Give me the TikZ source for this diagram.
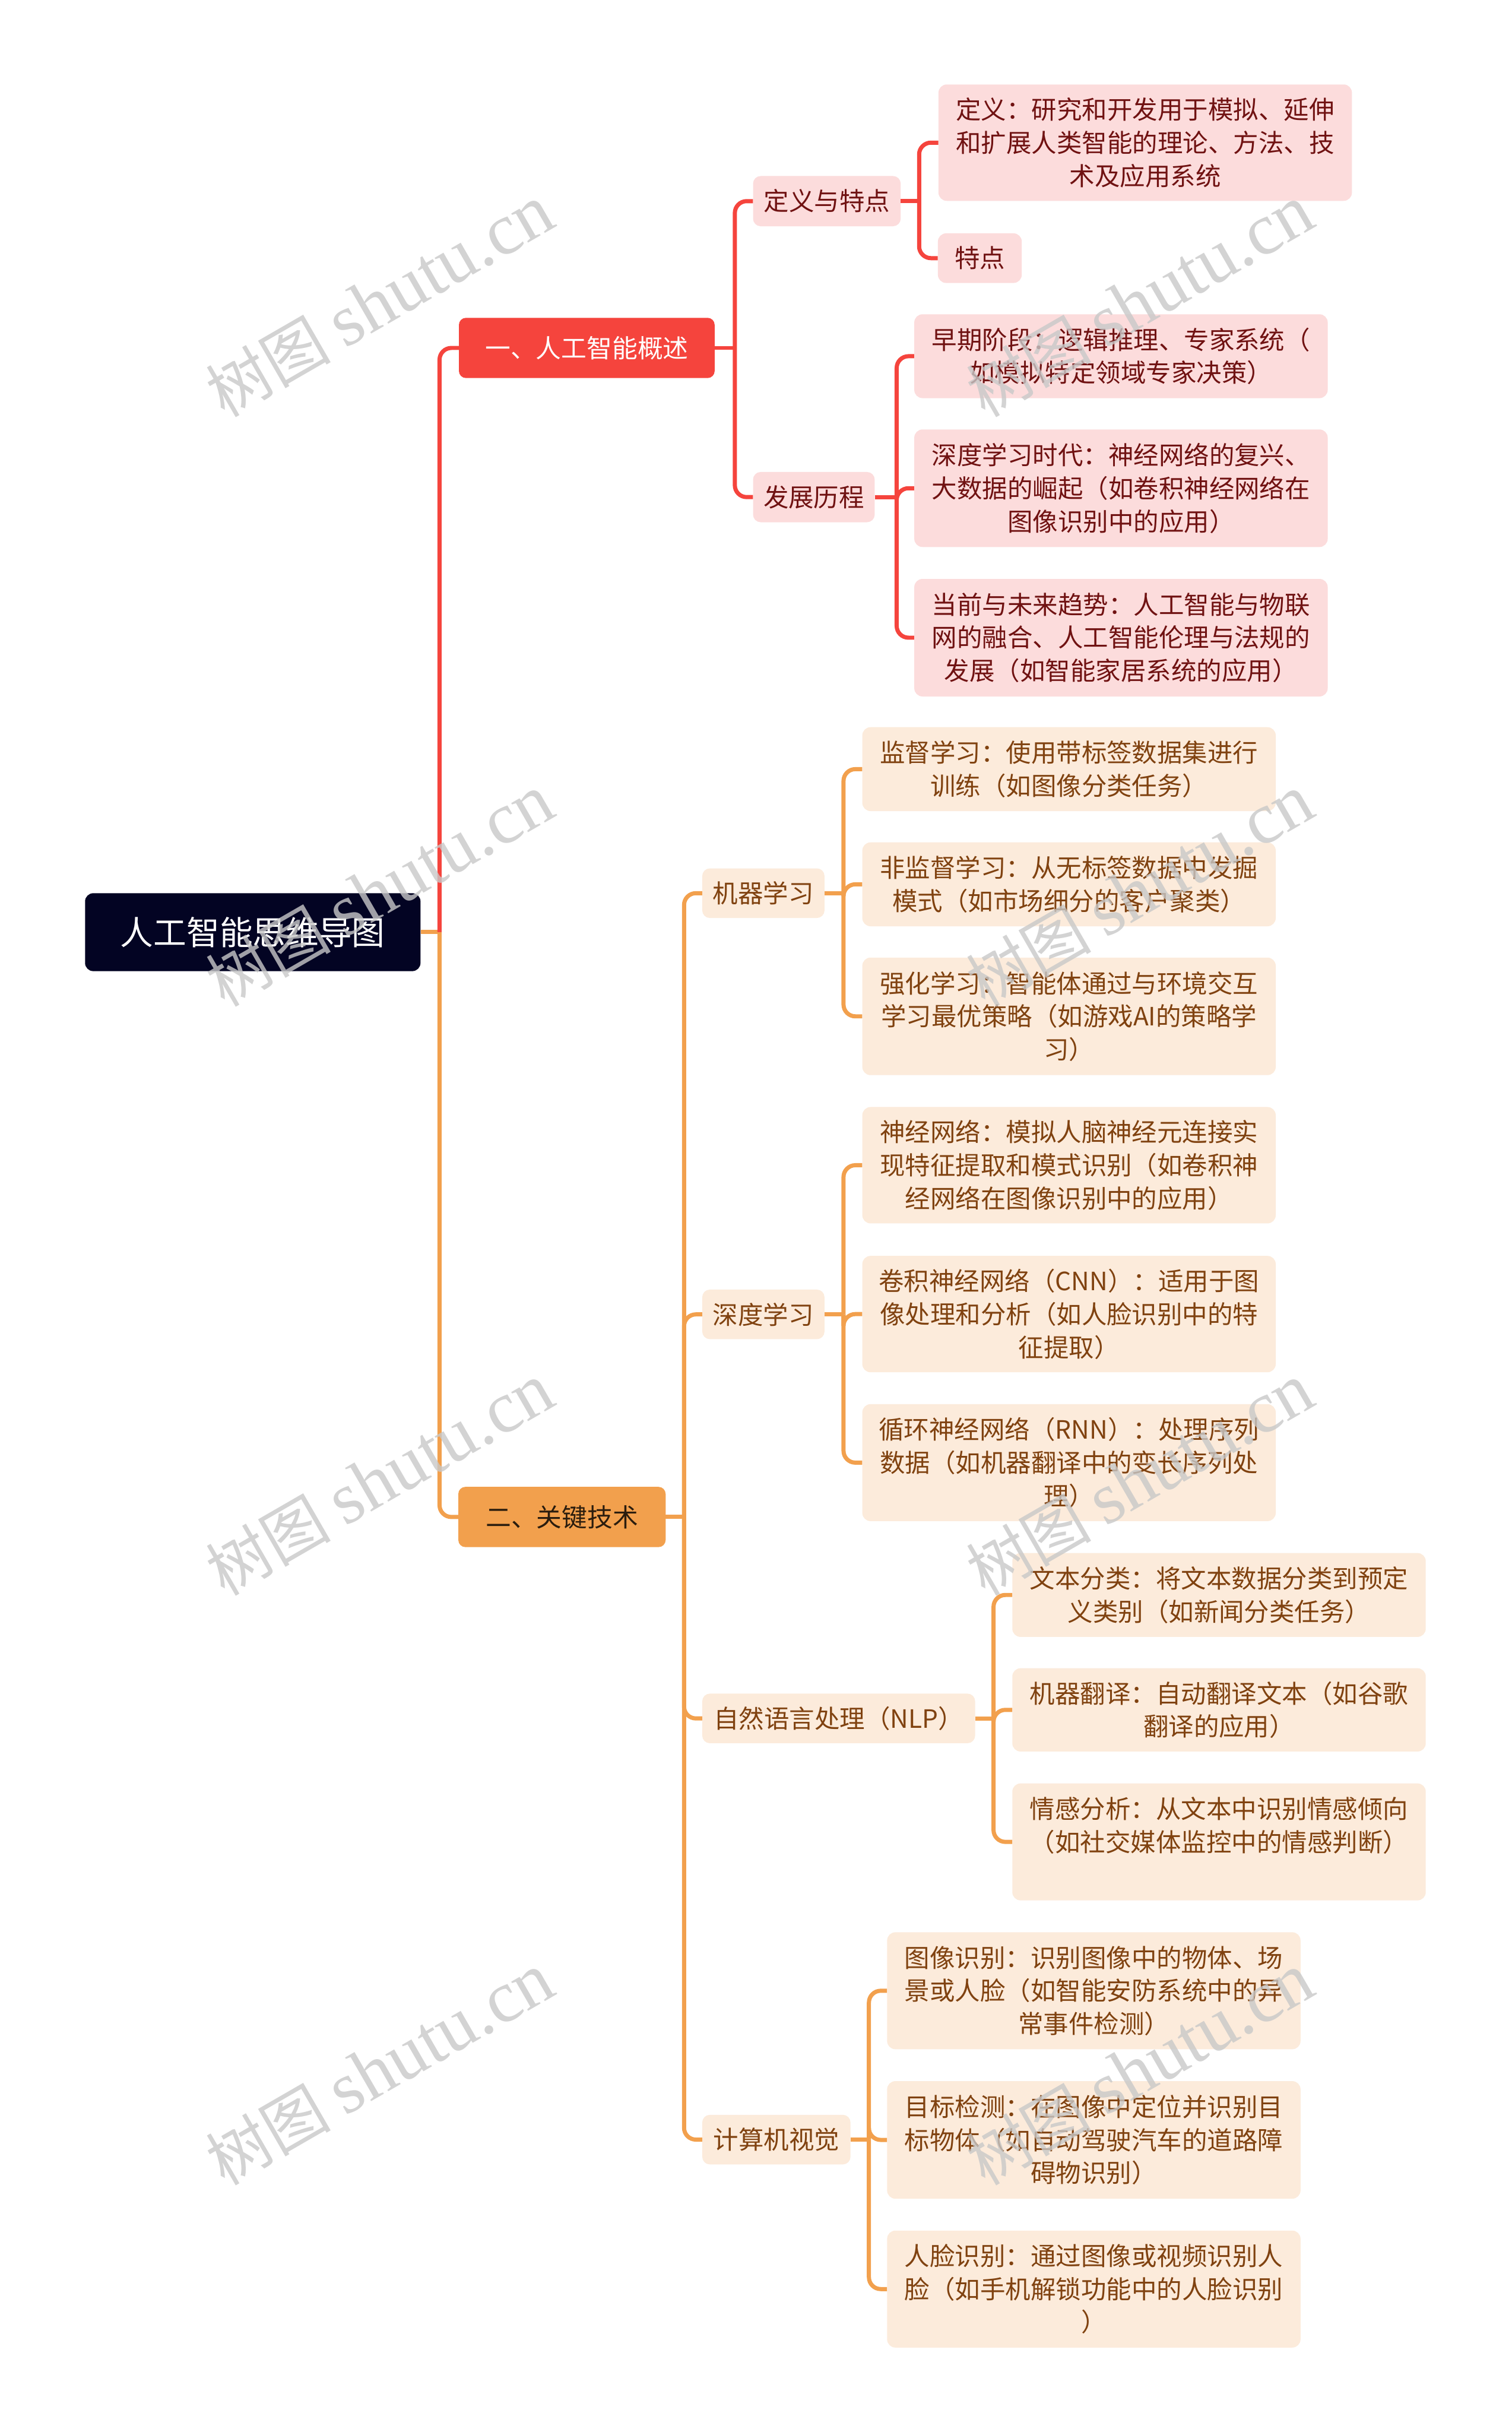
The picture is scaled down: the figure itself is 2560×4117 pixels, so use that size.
\documentclass[tikz,border=0pt]{standalone}
\usepackage{fontspec}
\setmainfont{Noto Sans CJK SC}
\newfontfamily\wmserif{Liberation Serif}
\definecolor{rootc}{RGB}{3,4,35}
\definecolor{redc}{RGB}{245,68,61}
\definecolor{orc}{RGB}{242,160,77}
\definecolor{pinkf}{RGB}{252,220,220}
\definecolor{peachf}{RGB}{252,235,219}
\definecolor{redt}{RGB}{112,18,18}
\definecolor{brownt}{RGB}{128,66,16}
\definecolor{darkt}{RGB}{43,29,14}
\definecolor{wmc}{RGB}{200,200,200}
\begin{document}
\begin{tikzpicture}[x=1pt,y=-1pt,
  box/.style={rectangle, inner sep=0pt, align=center},
  rootbox/.style={box, fill=rootc, text=white, rounded corners=14pt, font=\fontsize{56}{66}\selectfont},
  bonebox/.style={box, fill=redc, text=white, rounded corners=12pt, font=\fontsize{43}{56}\selectfont},
  btwobox/.style={box, fill=orc, text=darkt, rounded corners=12pt, font=\fontsize{43}{56}\selectfont},
  midr/.style={box, fill=pinkf, text=redt, rounded corners=13pt, minimum height=85pt, font=\fontsize{42.7}{56}\selectfont},
  mido/.style={box, fill=peachf, text=brownt, rounded corners=13pt, minimum height=84pt, font=\fontsize{42.7}{56}\selectfont},
  leafr/.style={box, fill=pinkf, text=redt, rounded corners=14pt, minimum width=700pt, font=\fontsize{42.7}{56}\selectfont},
  leafo/.style={box, fill=peachf, text=brownt, rounded corners=14pt, minimum width=700pt, font=\fontsize{42.7}{56}\selectfont},
  rline/.style={draw=redc, line width=7pt, rounded corners=20pt},
  oline/.style={draw=orc, line width=7pt, rounded corners=20pt},
  wm/.style={text=wmc, opacity=0.8, rotate=30, inner sep=0pt}
]
\useasboundingbox (0,0) rectangle (2560,4117);
\fill[white] (0,0) rectangle (2560,4117);

% root and branches
\node[rootbox, minimum width=568pt, minimum height=132pt] (root) at (428,1578) {人工智能思维导图};
\node[bonebox, minimum width=433pt, minimum height=102pt] (b1) at (993.5,589) {一、人工智能概述};
\node[btwobox, minimum width=351pt, minimum height=102pt] (b2) at (951.5,2568) {二、关键技术};

% level 2
\node[midr, minimum width=250pt] (n11) at (1400,340.5) {定义与特点};
\node[midr, minimum width=206pt] (n12) at (1378,841.5) {发展历程};
\node[mido, minimum width=207pt] (n21) at (1292.5,1512) {机器学习};
\node[mido, minimum width=207pt] (n22) at (1292.5,2225) {深度学习};
\node[mido, minimum width=462pt] (n23) at (1420,2909) {自然语言处理（NLP）};
\node[mido, minimum width=251pt] (n24) at (1314.5,3622) {计算机视觉};

% leaves of branch 1
\node[leafr, minimum height=197pt] (l111) at (1939,241.5) {定义：研究和开发用于模拟、延伸\\和扩展人类智能的理论、方法、技\\术及应用系统};
\node[leafr, minimum width=142pt, minimum height=84pt] (l112) at (1659,437) {特点};
\node[leafr, minimum height=142pt] (l121) at (1898,603) {早期阶段：逻辑推理、专家系统（\\如模拟特定领域专家决策）};
\node[leafr, minimum height=199pt] (l122) at (1898,826.5) {深度学习时代：神经网络的复兴、\\大数据的崛起（如卷积神经网络在\\图像识别中的应用）};
\node[leafr, minimum height=199pt] (l123) at (1898,1079.5) {当前与未来趋势：人工智能与物联\\网的融合、人工智能伦理与法规的\\发展（如智能家居系统的应用）};

% leaves of branch 2
\node[leafo, minimum height=142pt] (l211) at (1810,1302) {监督学习：使用带标签数据集进行\\训练（如图像分类任务）};
\node[leafo, minimum height=142pt] (l212) at (1810,1497) {非监督学习：从无标签数据中发掘\\模式（如市场细分的客户聚类）};
\node[leafo, minimum height=199pt] (l213) at (1810,1720.5) {强化学习：智能体通过与环境交互\\学习最优策略（如游戏AI的策略学\\习）};
\node[leafo, minimum height=197pt] (l221) at (1810,1972.5) {神经网络：模拟人脑神经元连接实\\现特征提取和模式识别（如卷积神\\经网络在图像识别中的应用）};
\node[leafo, minimum height=197pt] (l222) at (1810,2224.5) {卷积神经网络（CNN）：适用于图\\像处理和分析（如人脸识别中的特\\征提取）};
\node[leafo, minimum height=198pt] (l223) at (1810,2476) {循环神经网络（RNN）：处理序列\\数据（如机器翻译中的变长序列处\\理）};
\node[leafo, minimum height=142pt] (l231) at (2064,2700) {文本分类：将文本数据分类到预定\\义类别（如新闻分类任务）};
\node[leafo, minimum height=141pt] (l232) at (2064,2894.5) {机器翻译：自动翻译文本（如谷歌\\翻译的应用）};
\node[leafo, minimum height=198pt] (l233) at (2064,3118) {情感分析：从文本中识别情感倾向\\（如社交媒体监控中的情感判断）\\\vphantom{情}};
\node[leafo, minimum height=198pt] (l241) at (1852,3370) {图像识别：识别图像中的物体、场\\景或人脸（如智能安防系统中的异\\常事件检测）};
\node[leafo, minimum height=199pt] (l242) at (1852,3622.5) {目标检测：在图像中定位并识别目\\标物体（如自动驾驶汽车的道路障\\碍物识别）};
\node[leafo, minimum height=198pt] (l243) at (1852,3875) {人脸识别：通过图像或视频识别人\\脸（如手机解锁功能中的人脸识别\\）};

% junctions
\coordinate (J0) at ([xshift=32pt]root.east);
\coordinate (J1) at ([xshift=34pt]b1.east);
\coordinate (J2) at ([xshift=31pt]b2.east);
\coordinate (J11) at ([xshift=31pt]n11.east);
\coordinate (J12) at ([xshift=37pt]n12.east);
\coordinate (J21) at ([xshift=32pt]n21.east);
\coordinate (J22) at ([xshift=32pt]n22.east);
\coordinate (J23) at ([xshift=31pt]n23.east);
\coordinate (J24) at ([xshift=31pt]n24.east);

% connectors
\draw[oline] (root.east) -- (J0);
\draw[rline] (J0) |- (b1.west);
\draw[oline] (J0) |- (b2.west);

\draw[rline] (b1.east) -- (J1);
\draw[rline] (J1) |- (n11.west);
\draw[rline] (J1) |- (n12.west);
\draw[rline] (n11.east) -- (J11);
\draw[rline] (J11) |- (l111.west);
\draw[rline] (J11) |- (l112.west);
\draw[rline] (n12.east) -- (J12);
\draw[rline] (J12) |- (l121.west);
\draw[rline] (J12) |- (l122.west);
\draw[rline] (J12) |- (l123.west);

\draw[oline] (b2.east) -- (J2);
\draw[oline] (J2) |- (n21.west);
\draw[oline] (J2) |- (n22.west);
\draw[oline] (J2) |- (n23.west);
\draw[oline] (J2) |- (n24.west);
\draw[oline] (n21.east) -- (J21);
\draw[oline] (J21) |- (l211.west);
\draw[oline] (J21) |- (l212.west);
\draw[oline] (J21) |- (l213.west);
\draw[oline] (n22.east) -- (J22);
\draw[oline] (J22) |- (l221.west);
\draw[oline] (J22) |- (l222.west);
\draw[oline] (J22) |- (l223.west);
\draw[oline] (n23.east) -- (J23);
\draw[oline] (J23) |- (l231.west);
\draw[oline] (J23) |- (l232.west);
\draw[oline] (J23) |- (l233.west);
\draw[oline] (n24.east) -- (J24);
\draw[oline] (J24) |- (l241.west);
\draw[oline] (J24) |- (l242.west);
\draw[oline] (J24) |- (l243.west);

% watermarks
\foreach \wx/\wy [count=\i] in {643/510, 1930/510, 643/1508, 1930/1508, 643/2505, 1930/2505, 643/3503, 1930/3503}{
  \node[wm] (wm\i) at (\wx,\wy) {\fontsize{106}{116}\selectfont 树图 {\wmserif\fontsize{124}{126}\selectfont shutu.cn}};
}
\end{tikzpicture}
\end{document}
